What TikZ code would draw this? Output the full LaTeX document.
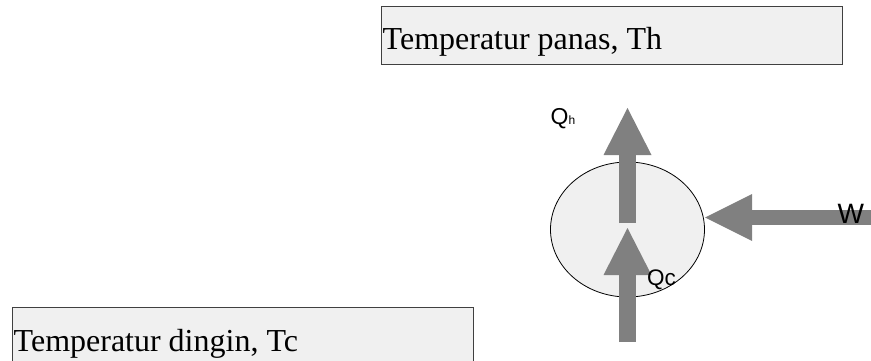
\documentclass[tikz,border=0pt]{standalone}
\usepackage{fontspec}
\setmainfont{Liberation Serif}
\newfontfamily\labelfont{Liberation Sans}
\usetikzlibrary{shapes.geometric,arrows.meta}

\definecolor{boxfill}{HTML}{F0F0F0}
\definecolor{boxline}{HTML}{404040}
\definecolor{flow}{HTML}{808080}

\tikzset{
  tempbox/.style={draw=boxline, fill=boxfill, line width=1pt, anchor=north west,
    minimum width=461pt, minimum height=58pt, inner sep=0pt},
  temptext/.style={anchor=base west, inner sep=0pt,
    font=\fontsize{32}{36}\selectfont},
  engine/.style={ellipse, draw=black, fill=boxfill, line width=0.8pt,
    minimum width=154pt, minimum height=135pt, inner sep=0pt},
  heatflow/.style={draw=flow, line width=17pt,
    -{Triangle[width=48pt, length=47pt, line width=0pt, fill=flow]}},
  workflow/.style={draw=flow, line width=15pt,
    -{Triangle[width=47pt, length=47pt, line width=0pt, fill=flow]}},
  flowlabel/.style={anchor=base west, inner sep=0pt, text=black}
}

\begin{document}
\begin{tikzpicture}[x=1pt, y=-1pt]
  \useasboundingbox (0,0) rectangle (871,361);

  % hot and cold reservoirs
  \node[tempbox] (hot) at (381,6) {};
  \node[temptext] (hottext) at (382.5,50) {Temperatur panas, Th};
  \node[tempbox] (cold) at (12,306.5) {};
  \node[temptext] (coldtext) at (13.5,351.5) {Temperatur dingin, Tc};

  % the engine
  \node[engine] (eng) at (627.5,229.5) {};

  % flow end points
  \coordinate (qhstart) at (627.5,223);
  \coordinate (qhend) at (627.5,108);
  \coordinate (qcstart) at (627.5,342);
  \coordinate (qcend) at (627.5,228);
  \coordinate (wstart) at (875,217.5);
  \coordinate (wend) at (705,217.5);

  \draw[heatflow] (qhstart) -- (qhend);
  \draw[heatflow] (qcstart) -- (qcend);
  \draw[workflow] (wstart) -- (wend);

  % flow labels
  \node[flowlabel] (qhlabel) at (550.5,124.5)
    {\labelfont\fontsize{23}{23}\selectfont Q\fontsize{12}{12}\selectfont h};
  \node[flowlabel] (qclabel) at (647,285.5)
    {\labelfont\fontsize{22.5}{22}\selectfont Qc};
  \node[flowlabel] (wlabel) at (837.5,223.5)
    {\labelfont\fontsize{28}{28}\selectfont W};
\end{tikzpicture}
\end{document}
